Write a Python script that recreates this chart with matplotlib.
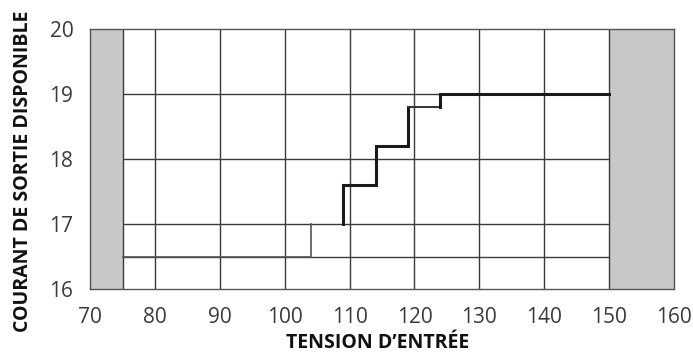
import matplotlib
matplotlib.use("Agg")
import matplotlib.pyplot as plt

plt.rcParams['font.family'] = ['Open Sans', 'DejaVu Sans']

# Data
x_ticks = [70, 80, 90, 100, 110, 120, 130, 140, 150, 160]
y_ticks = [16, 17, 18, 19, 20]
grid_x = [75, 80, 90, 100, 110, 120, 130, 140, 150]
grid_y = [16.5, 17, 18, 19]
shaded_zones = [(70, 75), (150, 160)]

thin_v = [75, 104, 104]
thin_i = [16.5, 16.5, 17.0]
thick_v = [109, 109, 114, 114, 119, 119]
thick_i = [17.0, 17.6, 17.6, 18.2, 18.2, 18.8]
mid_v = [119, 124]
mid_i = [18.8, 18.8]
top_v = [124, 124, 150]
top_i = [18.8, 19.0, 19.0]

x_label = "TENSION D\u2019ENTRÉE"
y_label = "COURANT DE SORTIE DISPONIBLE"

fig = plt.figure(figsize=(6.93, 3.54), dpi=100)
ax = fig.add_axes([0.130, 0.1836, 0.8426, 0.7344])
ax.set_xlim(70, 160)
ax.set_ylim(16, 20)

grid_col = '#3a3a3a'
for a, b in shaded_zones:
    ax.axvspan(a, b, facecolor='#c8c8c8', edgecolor='none', zorder=1)
for gx in grid_x:
    ax.axvline(gx, color=grid_col, lw=1.0, zorder=2)
for gy in grid_y:
    ax.hlines(gy, 75, 150, color=grid_col, lw=1.0, zorder=2)

ax.plot(thin_v, thin_i, color='#555555', lw=1.2, zorder=3)
ax.plot(thick_v, thick_i, color='#1a1a1a', lw=2.2, zorder=3, solid_joinstyle='miter')
ax.plot(mid_v, mid_i, color='#333333', lw=1.4, zorder=3)
ax.plot(top_v, top_i, color='#1a1a1a', lw=2.2, zorder=3, solid_joinstyle='miter')

for s in ax.spines.values():
    s.set_color('#555555')
    s.set_linewidth(1.0)
    s.set_zorder(4)

ax.set_xticks(x_ticks)
ax.set_yticks(y_ticks)
ax.tick_params(length=0, labelsize=15, labelcolor='#3a3a3a')
ax.tick_params(axis='x', pad=13)
ax.tick_params(axis='y', pad=12)
ax.set_xlabel(x_label, fontsize=14, fontweight='bold', color='#111111')
ax.set_ylabel(y_label, fontsize=14, fontweight='bold', color='#111111')
ax.xaxis.set_label_coords(0.493, -0.17)
ax.yaxis.set_label_coords(-0.098, 0.452)

fig.savefig('out.png', dpi=100)
